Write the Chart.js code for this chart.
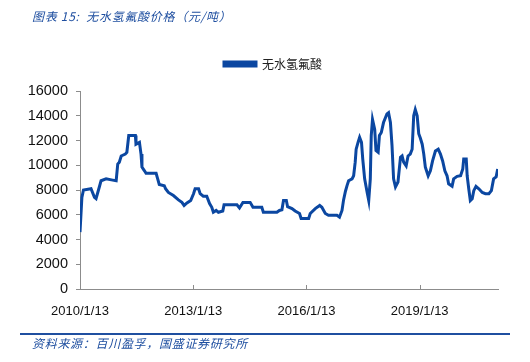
<!DOCTYPE html>
<html>
<head>
<meta charset="utf-8">
<script src="https://cdn.jsdelivr.net/npm/chart.js@4/dist/chart.umd.min.js"></script>
<style>
  body { margin: 0; background: #fff; }
  #wrap { position: relative; width: 530px; height: 362px; overflow: hidden; }
  #chart { position: absolute; left: 0; top: 0; }
  .cap { position: absolute; left: 32px; font-family: "Noto Sans CJK SC", sans-serif; font-style: italic; font-size: 12px; color: #1f4fa0; white-space: nowrap; letter-spacing: 0.7px; }
  #title { top: 7px; }
  #source { top: 334px; }
  #rule { position: absolute; left: 20px; top: 333px; width: 490px; height: 2px; background: #1f4fa0; }
</style>
</head>
<body>
<div id="wrap">
  <canvas id="chart" width="530" height="362"></canvas>
  <div id="title" class="cap">图表 15:&nbsp; 无水氢氟酸价格（元/吨）</div>
  <div id="rule"></div>
  <div id="source" class="cap">资料来源：百川盈孚，国盛证券研究所</div>
</div>
<script>
// months since 2010/1/13
const months = [0.0, 0.6, 1.1, 3.5, 4.6, 5.1, 6.1, 6.7, 8.3, 10.4, 11.5, 12.0, 12.5, 13.1, 14.4, 14.9,
  15.5, 17.6, 17.8, 18.9, 19.4, 19.7, 20.5, 21.0, 24.2, 24.7, 25.2, 26.8, 27.2, 28.1, 29.7, 31.3,
  32.4, 33.1, 34.0, 35.2, 36.1, 36.6, 37.7, 38.2, 39.2, 40.3, 41.2, 41.9, 42.4, 43.3, 44.0, 45.4,
  45.8, 49.9, 50.7, 51.8, 54.1, 55.0, 57.8, 58.3, 62.6, 63.4, 64.2, 64.7, 65.6, 66.0, 67.4, 68.4,
  69.8, 70.3, 72.7, 73.2, 74.8, 76.2, 76.9, 78.0, 79.0, 81.7, 82.5, 83.3, 83.8, 84.4, 84.9, 85.4,
  86.5, 87.0, 87.5, 87.8, 88.4, 88.9, 89.5, 89.9, 90.5, 91.3, 91.8, 92.3, 92.6, 93.0, 93.7, 94.1,
  94.8, 95.2, 95.8, 96.5, 97.6, 98.1, 98.7, 99.2, 99.7, 100.3, 101.1, 101.9, 102.4, 102.9, 103.7,
  104.3, 105.0, 105.6, 106.1, 106.6, 107.2, 107.7, 108.2, 108.8, 109.3, 109.8, 110.7, 111.4, 112.1,
  113.0, 113.9, 114.6, 115.3, 116.0, 116.7, 117.2, 118.3, 118.8, 119.9, 121.0, 121.7, 122.0, 122.8,
  123.1, 123.6, 124.1, 124.7, 125.2, 125.9, 126.8, 127.9, 128.9, 130.0, 130.8, 131.5, 132.3, 132.8];

const prices = [4600, 7400, 8000, 8100, 7400, 7300, 8200, 8750, 8900, 8800, 8750, 10100, 10250, 10750, 10900, 11050,
  12400, 12400, 11700, 11850, 10900, 9850, 9550, 9350, 9350, 8900, 8450, 8350, 8100, 7800, 7550, 7200,
  7000, 6750, 6950, 7150, 7700, 8100, 8100, 7700, 7500, 7500, 6900, 6600, 6200, 6350, 6200, 6300,
  6800, 6800, 6550, 7000, 7000, 6600, 6600, 6200, 6200, 6350, 6400, 7150, 7150, 6650, 6500, 6300,
  6100, 5700, 5700, 6100, 6500, 6750, 6600, 6100, 5950, 5950, 5800, 6350, 7200, 7900, 8350, 8750,
  8900, 9150, 10250, 11300, 11850, 12250, 11850, 10500, 8900, 7800, 7150, 8900, 12400, 13700, 12900, 11200,
  11050, 12400, 12650, 13450, 14150, 14250, 13450, 11600, 8900, 8250, 8650, 10650, 10750, 10250, 9950,
  10750, 10900, 11300, 14000, 14500, 14000, 12550, 12200, 11700, 10900, 9850, 9150, 9550, 10350,
  11150, 11300, 10900, 10350, 9550, 9150, 8500, 8300, 8900, 9100, 9150, 9700, 10500, 10500,
  9150, 8100, 7150, 7300, 7950, 8300, 8100, 7800, 7700, 7700, 7950, 8900, 9050, 9700];

const seriesName = '无水氢氟酸';
const tickMonths = [0, 36, 72, 108];
const tickLabels = ['2010/1/13', '2013/1/13', '2016/1/13', '2019/1/13'];

const blue = '#0b47a1';
const axisGray = '#8c8c8c';

// small tick marks pointing up into the plot on the x axis
const innerTicks = {
  id: 'innerTicks',
  afterDraw(chart) {
    const ctx = chart.ctx;
    const xs = chart.scales.x;
    const y0 = chart.chartArea.bottom;
    ctx.save();
    ctx.strokeStyle = axisGray;
    ctx.lineWidth = 1;
    tickMonths.forEach(function (m) {
      const px = Math.round(xs.getPixelForValue(m)) + 0.5;
      ctx.beginPath();
      ctx.moveTo(px, y0);
      ctx.lineTo(px, y0 - 4);
      ctx.stroke();
    });
    ctx.restore();
  }
};

// extra room under the legend, and nudge it to the right like the original
const legendTweak = {
  id: 'legendTweak',
  beforeInit(chart) {
    const fit = chart.legend.fit;
    chart.legend.fit = function () {
      fit.bind(chart.legend)();
      this.height += 11;
    };
  },
  afterLayout(chart) {
    chart.legend.left += 24;
    chart.legend.right += 24;
  }
};

new Chart(document.getElementById('chart'), {
  type: 'line',
  data: {
    datasets: [{
      label: seriesName,
      data: months.map((m, i) => ({ x: m, y: prices[i] })),
      borderColor: blue,
      backgroundColor: blue,
      borderWidth: 3,
      pointRadius: 0,
      tension: 0
    }]
  },
  options: {
    responsive: false,
    animation: false,
    layout: { padding: { top: 48, right: 32, left: 0, bottom: 0 } },
    plugins: {
      tooltip: { enabled: false },
      legend: {
        position: 'top',
        labels: {
          boxWidth: 32,
          boxHeight: 4,
          padding: 10,
          color: '#222',
          font: { family: 'Noto Sans CJK SC', size: 12 }
        }
      }
    },
    scales: {
      x: {
        type: 'linear',
        min: 0,
        max: 132.9,
        afterBuildTicks: function (scale) {
          scale.ticks = tickMonths.map(v => ({ value: v }));
        },
        afterFit: function (scale) { scale.height = 73; },
        grid: { display: false },
        border: { color: axisGray },
        ticks: {
          autoSkip: false,
          maxRotation: 0,
          padding: 7,
          color: '#111',
          font: { family: 'Liberation Sans', size: 13 },
          callback: function (v) {
            const i = tickMonths.indexOf(v);
            return i >= 0 ? tickLabels[i] : '';
          }
        }
      },
      y: {
        min: 0,
        max: 16000,
        afterFit: function (scale) { scale.width = 80; },
        grid: { drawOnChartArea: false, tickLength: 4, color: axisGray },
        border: { color: axisGray },
        ticks: {
          stepSize: 2000,
          padding: 8,
          color: '#111',
          font: { family: 'Liberation Sans', size: 14.5 },
          callback: function (v) { return String(v); }
        }
      }
    }
  },
  plugins: [innerTicks, legendTweak]
});
</script>
</body>
</html>
